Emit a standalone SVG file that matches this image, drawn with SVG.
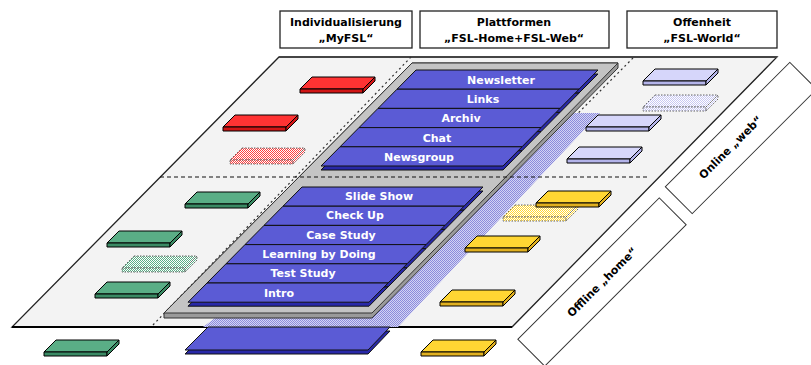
<svg xmlns="http://www.w3.org/2000/svg" xmlns:xlink="http://www.w3.org/1999/xlink" width="811" height="365" viewBox="0 0 811 365">
<style>
text{font-family:"DejaVu Sans","Liberation Sans",sans-serif;font-weight:bold;font-size:11px}
.hdr{fill:#000;text-anchor:middle}
.box{fill:#fff;stroke:#222;stroke-width:1.3}
.lbl{fill:#fff;text-anchor:middle}
.slabD{fill:#2828a8;stroke:#111;stroke-width:1}
.slabT{fill:#5b5bd5;stroke:#111;stroke-width:1}
.t{stroke:#000;stroke-width:1;stroke-linejoin:round}
.pale{stroke:#666;stroke-width:1;stroke-dasharray:1.5 1.5}
.red{--t:#ff3333;--f:#d01515}
.grn{--t:#5aae86;--f:#3a8a64}
.lav{--t:#d6d6fa;--f:#b4b4ea}
.yel{--t:#ffd633;--f:#e0b020}
.pred{--t:url(#pRed);--f:url(#pRed)}
.pgrn{--t:url(#pGrn);--f:url(#pGrn)}
.plav{--t:url(#pLav);--f:url(#pLav)}
.pyel{--t:url(#pYel);--f:url(#pYel)}
</style>
<defs>
<pattern id="pShadow" width="2" height="2" patternUnits="userSpaceOnUse"><rect width="2" height="2" fill="#d4d4f4"/><rect width="1" height="1" fill="#8c8cdc"/><rect x="1" y="1" width="1" height="1" fill="#8c8cdc"/></pattern>
<pattern id="pRed" width="2" height="2" patternUnits="userSpaceOnUse"><rect width="2" height="2" fill="#fff"/><rect width="1" height="1" fill="#ff4040"/><rect x="1" y="1" width="1" height="1" fill="#ff4040"/></pattern>
<pattern id="pGrn" width="2" height="2" patternUnits="userSpaceOnUse"><rect width="2" height="2" fill="#fff"/><rect width="1" height="1" fill="#5aae86"/><rect x="1" y="1" width="1" height="1" fill="#5aae86"/></pattern>
<pattern id="pLav" width="2" height="2" patternUnits="userSpaceOnUse"><rect width="2" height="2" fill="#fff"/><rect width="1" height="1" fill="#c8c8f2"/><rect x="1" y="1" width="1" height="1" fill="#c8c8f2"/></pattern>
<pattern id="pYel" width="2" height="2" patternUnits="userSpaceOnUse"><rect width="2" height="2" fill="#fff"/><rect width="1" height="1" fill="#ffd633"/><rect x="1" y="1" width="1" height="1" fill="#ffd633"/></pattern>
<g id="tile">
<path style="fill:var(--t)" d="M12,0H75L63,12H0Z"/>
<path style="fill:var(--f)" d="M0,12H63V16H0Z"/>
<path style="fill:var(--f)" d="M63,12L75,0V4L63,16Z"/>
</g>
</defs>

<g id="headers">
<g id="h-individual"><rect class="box" x="280" y="11" width="132" height="37"/><text class="hdr" x="346" y="26">Individualisierung</text><text class="hdr" x="346" y="42">„MyFSL“</text></g>
<g id="h-plattformen"><rect class="box" x="420" y="11" width="189" height="37"/><text class="hdr" x="514" y="26">Plattformen</text><text class="hdr" x="514" y="42">„FSL-Home+FSL-Web“</text></g>
<g id="h-offenheit"><rect class="box" x="627" y="11" width="150" height="37"/><text class="hdr" x="702" y="26">Offenheit</text><text class="hdr" x="702" y="42">„FSL-World“</text></g>
</g>

<g id="plane">
<polygon points="279,57 777,57 512,327 12,327" fill="#f3f3f3" stroke="#222" stroke-width="1.3"/>
<line x1="279" y1="57" x2="777" y2="57" stroke="#444" stroke-width="2"/>
<line x1="12" y1="327" x2="512" y2="327" stroke="#000" stroke-width="2"/>
</g>

<g id="guides" fill="none">
<line x1="411" y1="57" x2="152" y2="326" stroke="#333" stroke-width="1.2" stroke-dasharray="2 3"/>
<line x1="633" y1="58" x2="366" y2="326" stroke="#333" stroke-width="1.2" stroke-dasharray="2 3"/>
</g>

<g id="shadow">
<polygon points="556,113 600,113 398,327 203,327 215,318" fill="url(#pShadow)"/>
</g>

<g id="tray">
<polygon points="412,63 618,63 618,68 372,318 164,318 164,313" fill="#9a9a9a" stroke="#333" stroke-width="1"/>
<polygon points="412,63 618,63 372,313 164,313" fill="#c4c4c4" stroke="#333" stroke-width="1"/>
</g>

<g id="divider">
<line x1="160" y1="177" x2="650" y2="177" stroke="#111" stroke-width="1.2" stroke-dasharray="4 3"/>
</g>

<g id="stack-web">
<g id="s-newsletter"><polygon class="slabD" points="416,74 598,74 579,93 397,93"/><polygon class="slabT" points="416,70 598,70 579,89.2 397,89.2"/><text class="lbl" x="501" y="84">Newsletter</text></g>
<g id="s-links"><polygon class="slabD" points="397,93.2 579,93.2 560,112.4 378,112.4"/><polygon class="slabT" points="397,89.2 579,89.2 560,108.4 378,108.4"/><text class="lbl" x="483" y="103">Links</text></g>
<g id="s-archiv"><polygon class="slabD" points="378,112.4 560,112.4 541,131.6 359,131.6"/><polygon class="slabT" points="378,108.4 560,108.4 541,127.6 359,127.6"/><text class="lbl" x="461" y="122">Archiv</text></g>
<g id="s-chat"><polygon class="slabD" points="359,131.6 541,131.6 522,150.8 340,150.8"/><polygon class="slabT" points="359,127.6 541,127.6 522,146.8 340,146.8"/><text class="lbl" x="437" y="142">Chat</text></g>
<g id="s-newsgroup"><polygon class="slabD" points="340,150.8 522,150.8 503,170 321,170"/><polygon class="slabT" points="340,146.8 522,146.8 503,166 321,166"/><text class="lbl" x="419" y="161">Newsgroup</text></g>
</g>

<g id="stack-home">
<g id="s-slideshow"><polygon class="slabD" points="302,191 483,191 464,210.2 283,210.2"/><polygon class="slabT" points="302,187 483,187 464,206.2 283,206.2"/><text class="lbl" x="379" y="200">Slide Show</text></g>
<g id="s-checkup"><polygon class="slabD" points="283,210.2 464,210.2 445,229.4 264,229.4"/><polygon class="slabT" points="283,206.2 464,206.2 445,225.4 264,225.4"/><text class="lbl" x="355" y="219">Check Up</text></g>
<g id="s-casestudy"><polygon class="slabD" points="264,229.4 445,229.4 426,248.6 245,248.6"/><polygon class="slabT" points="264,225.4 445,225.4 426,244.6 245,244.6"/><text class="lbl" x="341" y="239">Case Study</text></g>
<g id="s-learning"><polygon class="slabD" points="245,248.6 426,248.6 407,267.8 226,267.8"/><polygon class="slabT" points="245,244.6 426,244.6 407,263.8 226,263.8"/><text class="lbl" x="319" y="258">Learning by Doing</text></g>
<g id="s-teststudy"><polygon class="slabD" points="226,267.8 407,267.8 388,287 207,287"/><polygon class="slabT" points="226,263.8 407,263.8 388,283 207,283"/><text class="lbl" x="303" y="277">Test Study</text></g>
<g id="s-intro"><polygon class="slabD" points="207,287 388,287 369,306.2 188,306.2"/><polygon class="slabT" points="207,283 388,283 369,302.2 188,302.2"/><text class="lbl" x="279" y="297">Intro</text></g>
</g>

<g id="slab-below">
<polygon class="slabD" points="208,331 390,331 368,354 185,354"/>
<polygon class="slabT" points="208,327 390,327 368,350 185,350"/>
</g>

<g id="tiles">
<use xlink:href="#tile" class="t red" x="300" y="77"/>
<use xlink:href="#tile" class="t red" x="223" y="115"/>
<use xlink:href="#tile" class="pale pred" x="230" y="148"/>
<use xlink:href="#tile" class="t grn" x="185" y="192"/>
<use xlink:href="#tile" class="t grn" x="107" y="231"/>
<use xlink:href="#tile" class="pale pgrn" x="122" y="256"/>
<use xlink:href="#tile" class="t grn" x="95" y="282"/>
<use xlink:href="#tile" class="t grn" x="44" y="340"/>
<use xlink:href="#tile" class="t lav" x="643" y="69"/>
<use xlink:href="#tile" class="pale plav" x="643" y="95"/>
<use xlink:href="#tile" class="t lav" x="586" y="115"/>
<use xlink:href="#tile" class="t lav" x="567" y="147"/>
<use xlink:href="#tile" class="pale pyel" x="503" y="205"/>
<use xlink:href="#tile" class="t yel" x="536" y="191"/>
<use xlink:href="#tile" class="t yel" x="465" y="236"/>
<use xlink:href="#tile" class="t yel" x="440" y="290"/>
<use xlink:href="#tile" class="t yel" x="421" y="340"/>
</g>

<g id="side-labels">
<g id="l-online" transform="translate(741,138) rotate(-45)"><rect x="-88" y="-19" width="176" height="38" fill="#fff" stroke="#333" stroke-width="1"/><text x="-14" y="3" fill="#000" text-anchor="middle">Online „web“</text></g>
<g id="l-offline" transform="translate(602,282) rotate(-45)"><rect x="-100" y="-19" width="200" height="38" fill="#fff" stroke="#333" stroke-width="1"/><text x="0" y="4" fill="#000" text-anchor="middle">Offline „home“</text></g>
</g>
</svg>
